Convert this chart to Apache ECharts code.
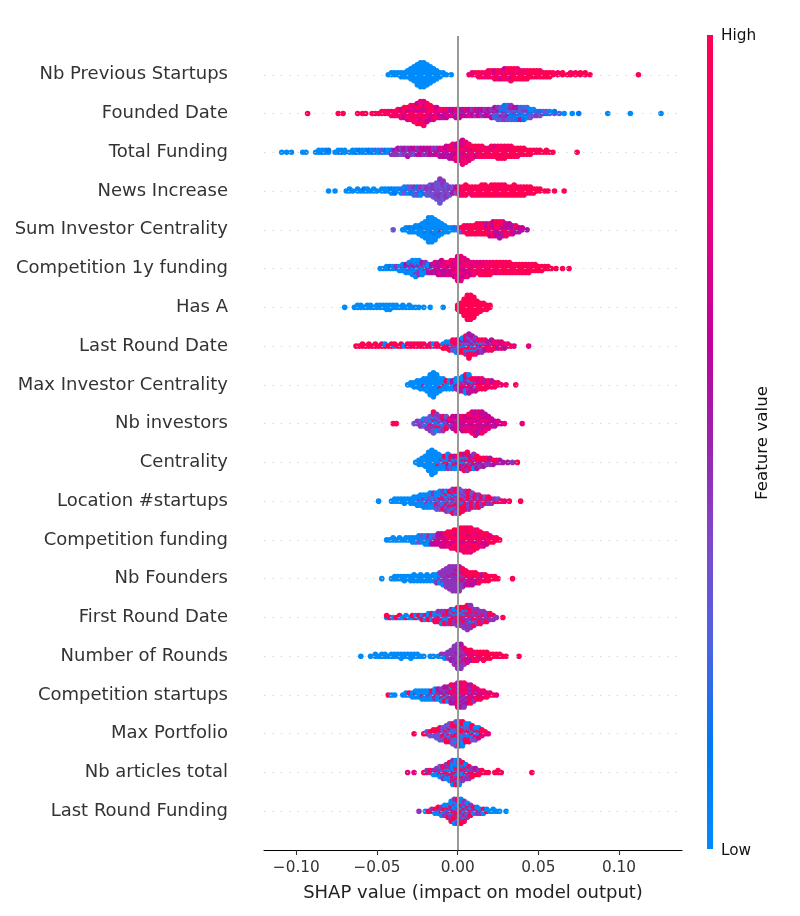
<!DOCTYPE html>
<html>
<head>
<meta charset="utf-8">
<script src="https://cdn.jsdelivr.net/npm/echarts@6/dist/echarts.min.js"></script>
<style>html,body{margin:0;padding:0;background:#fff}#c{width:800px;height:916px}</style>
</head>
<body>
<div id="c"></div>
<script>
// Feature names, top to bottom
const featureNames = ["Nb Previous Startups","Founded Date","Total Funding","News Increase","Sum Investor Centrality","Competition 1y funding","Has A","Last Round Date","Max Investor Centrality","Nb investors","Centrality","Location #startups","Competition funding","Nb Founders","First Round Date","Number of Rounds","Competition startups","Max Portfolio","Nb articles total","Last Round Funding"];
// x tick labels
const xTicks = [-0.10, -0.05, 0.00, 0.05, 0.10];
// Each entry: [SHAP value in thousandths, feature values of the dots at that value (0 = low ... 9 = high)]
const nbPreviousStartups = [[-43,"0"],[-41,"00"],[-39,"00"],[-37,"00"],[-35,"000"],[-33,"000"],[-31,"0000"],[-29,"000000"],[-27,"00000000"],[-25,"00000000000"],[-23,"0000000000000"],[-21,"0000000000000"],[-19,"00000000000"],[-17,"000000000"],[-15,"0000000"],[-13,"00000"],[-11,"000"],[-9,"00"],[-7,"0"],[-4,"0"],
 [7,"8"],[9,"97"],[11,"89"],[13,"798"],[15,"989"],[17,"897"],[19,"9798"],[21,"8979"],[23,"97968"],[25,"89798"],[27,"99786"],[29,"979896"],[31,"897989"],[33,"9879698"],[35,"989799"],[37,"799898"],[39,"98979"],[41,"89999"],[43,"99789"],[45,"9899"],[47,"8999"],[49,"9989"],[51,"9899"],[53,"989"],[55,"999"],[57,"899"],[59,"99"],[62,"98"],[65,"99"],[68,"9"],[70,"98"],[73,"99"],[76,"89"],[79,"99"],[82,"9"],[112,"9"]];
const foundedDate = [[-93,"9"],[-74,"9"],[-71,"9"],[-62,"9"],[-59,"9"],[-57,"9"],[-53,"9"],[-51,"8"],[-49,"9"],[-47,"98"],[-45,"89"],[-43,"98"],[-41,"979"],[-39,"898"],[-37,"9789"],[-35,"79868"],[-33,"978969"],[-31,"8796897"],[-29,"98769789"],[-27,"789698978"],[-25,"98768979869"],[-23,"879698796897"],[-21,"9786958796978"],[-19,"8976987968"],[-17,"78697869"],[-15,"6879687"],[-13,"768796"],[-11,"67586"],[-9,"57685"],[-7,"65786"],[-5,"5765"],[-3,"6576"],[-1,"56475"],[1,"65756"],[3,"5465"],[5,"4657"],[7,"5476"],[9,"4564"],[11,"6547"],[13,"4565"],[15,"5446"],[17,"4654"],[19,"5465"],[21,"45346"],[23,"453425"],[25,"3425143"],[27,"4231532"],[29,"25314241"],[31,"31425132"],[33,"42130524"],[35,"2413152"],[37,"3142051"],[39,"4213025"],[41,"1324021"],[43,"231402"],[45,"41203"],[47,"2130"],[49,"324"],[51,"213"],[53,"42"],[55,"13"],[57,"20"],[60,"31"],[63,"2"],[66,"0"],[71,"0"],[75,"1"],[93,"0"],[107,"0"],[126,"0"]];
const totalFunding = [[-109,"0"],[-106,"0"],[-103,"0"],[-96,"0"],[-94,"0"],[-88,"0"],[-86,"00"],[-84,"10"],[-82,"00"],[-80,"01"],[-76,"0"],[-74,"00"],[-72,"10"],[-70,"00"],[-67,"0"],[-65,"00"],[-63,"10"],[-61,"01"],[-59,"00"],[-57,"20"],[-55,"01"],[-53,"10"],[-51,"02"],[-49,"00"],[-47,"13"],[-45,"01"],[-43,"20"],[-41,"014"],[-39,"454"],[-37,"5345"],[-35,"4534"],[-33,"3545"],[-31,"54345"],[-29,"4545"],[-27,"5436"],[-25,"4554"],[-23,"5465"],[-21,"4546"],[-19,"5645"],[-17,"4566"],[-15,"6454"],[-13,"5664"],[-11,"65465"],[-9,"56576"],[-7,"675656"],[-5,"7658675"],[-3,"67586768"],[-1,"576867857"],[1,"8675968768"],[3,"6878597687867"],[5,"78698768978"],[7,"968789687"],[9,"8796898"],[11,"798969"],[13,"897989"],[15,"989798"],[17,"79898"],[19,"98979"],[21,"899789"],[23,"989897"],[25,"9798989"],[27,"8999798"],[29,"9989989"],[31,"989799"],[33,"899898"],[35,"98999"],[37,"99898"],[39,"8999"],[41,"9989"],[43,"999"],[45,"899"],[47,"99"],[49,"98"],[51,"99"],[53,"9"],[55,"99"],[57,"9"],[59,"9"],[74,"9"]];
const newsIncrease = [[-80,"0"],[-76,"0"],[-69,"0"],[-67,"00"],[-65,"0"],[-62,"00"],[-60,"0"],[-58,"01"],[-56,"00"],[-54,"0"],[-52,"00"],[-50,"0"],[-47,"00"],[-45,"10"],[-43,"00"],[-41,"010"],[-39,"001"],[-37,"00"],[-35,"020"],[-33,"0130"],[-31,"3102"],[-29,"0313"],[-27,"13042"],[-25,"30413"],[-23,"03140"],[-21,"4313"],[-19,"34343"],[-17,"433433"],[-15,"3434343"],[-13,"343343433"],[-11,"3433434343343"],[-9,"4343343434"],[-7,"3433434"],[-5,"34343"],[-3,"4353"],[-1,"7935"],[1,"97989"],[3,"89798"],[5,"979899"],[7,"8989"],[9,"99898"],[11,"98999"],[13,"89899"],[15,"999989"],[17,"989899"],[19,"99899"],[21,"898999"],[23,"999899"],[25,"998989"],[27,"899999"],[29,"989998"],[31,"99999"],[33,"98999"],[35,"999899"],[37,"89999"],[39,"99989"],[41,"99899"],[43,"9999"],[45,"9989"],[47,"999"],[49,"99"],[51,"99"],[54,"9"],[56,"9"],[60,"9"],[66,"9"]];
const sumInvestorCentrality = [[-40,"3"],[-34,"0"],[-32,"00"],[-30,"010"],[-28,"000"],[-26,"0100"],[-24,"00000"],[-22,"0001000"],[-20,"000010000"],[-18,"0000000100000"],[-16,"0000100000000"],[-14,"00000010000"],[-12,"00001000"],[-10,"009000"],[-8,"0000"],[-6,"000"],[-4,"00"],[-2,"01"],[0,"03"],[2,"293"],[4,"9989"],[6,"99979"],[8,"89999"],[10,"99899"],[12,"998999"],[14,"899998"],[16,"999899"],[18,"989695"],[20,"9958996"],[22,"95968596"],[24,"69595869"],[26,"596859695"],[28,"85965958"],[30,"9596859"],[32,"569586"],[34,"95856"],[36,"6859"],[38,"565"],[40,"56"],[43,"5"]];
const competition1yFunding = [[-48,"0"],[-46,"0"],[-44,"00"],[-42,"01"],[-40,"00"],[-38,"04"],[-36,"000"],[-34,"0400"],[-32,"04050"],[-30,"004500"],[-28,"40050400"],[-26,"050400400"],[-24,"40054040"],[-22,"5004050"],[-20,"045004"],[-18,"50405"],[-16,"45056"],[-14,"546557"],[-12,"5765656"],[-10,"65765876"],[-8,"7658675"],[-6,"6786587"],[-4,"56786768"],[-2,"876786876"],[0,"7687867867867"],[2,"8678768687687"],[4,"7867687867"],[6,"786878678"],[8,"8768876"],[10,"7887978"],[12,"878987"],[14,"9878979"],[16,"7989878"],[18,"8979989"],[20,"9878989"],[22,"899798"],[24,"998979"],[26,"989899"],[28,"899989"],[30,"999898"],[32,"989999"],[34,"99898"],[36,"99989"],[38,"89999"],[40,"99998"],[42,"98999"],[44,"99989"],[46,"9999"],[48,"9899"],[50,"999"],[52,"999"],[54,"99"],[56,"99"],[58,"9"],[61,"9"],[65,"9"],[69,"9"]];
const hasA = [[-70,"0"],[-64,"0"],[-62,"00"],[-60,"00"],[-58,"0"],[-56,"00"],[-54,"00"],[-52,"0"],[-50,"00"],[-48,"00"],[-46,"00"],[-44,"000"],[-42,"000"],[-40,"00"],[-38,"00"],[-36,"0"],[-34,"00"],[-32,"0"],[-30,"00"],[-28,"0"],[-26,"0"],[-24,"0"],[-21,"0"],[-17,"0"],[-9,"0"],
 [0,"999"],[2,"99999"],[4,"999999999"],[6,"9999999999999"],[8,"9999999999999"],[10,"99999999999"],[12,"9999999"],[14,"99999"],[16,"9999"],[18,"999"],[20,"99"]];
const lastRoundDate = [[-63,"9"],[-61,"9"],[-59,"99"],[-57,"9"],[-55,"99"],[-53,"9"],[-51,"99"],[-49,"9"],[-47,"99"],[-45,"90"],[-43,"9"],[-41,"99"],[-39,"09"],[-37,"9"],[-35,"99"],[-33,"0"],[-31,"99"],[-29,"98"],[-27,"99"],[-25,"89"],[-23,"99"],[-21,"98"],[-19,"9"],[-17,"98"],[-15,"30"],[-13,"98"],[-11,"9"],[-9,"809"],[-7,"9890"],[-5,"49809"],[-3,"904938"],[-1,"0948390"],[1,"3904958"],[3,"49038590"],[5,"8403950948"],[7,"0493850493859"],[9,"9405830495"],[11,"840395048"],[13,"5940385"],[15,"9480394"],[17,"489358"],[19,"84958"],[21,"589485"],[23,"8598"],[25,"7857"],[27,"8587"],[29,"585"],[31,"78"],[33,"8"],[35,"7"],[44,"7"]];
const maxInvestorCentrality = [[-31,"0"],[-29,"00"],[-27,"000"],[-25,"0000"],[-23,"00000"],[-21,"008000"],[-19,"0000000"],[-17,"00000000000"],[-15,"0000000000000"],[-13,"0000000000"],[-11,"0000900"],[-9,"009000"],[-7,"00090"],[-5,"00000"],[-3,"09050"],[-1,"405040"],[1,"5040905"],[3,"05947050"],[5,"4095740509"],[7,"0594704950"],[9,"7940597"],[11,"5974085"],[13,"979587"],[15,"859798"],[17,"97859"],[19,"5978"],[21,"8795"],[23,"978"],[25,"89"],[27,"7"],[30,"8"],[36,"9"]];
const nbInvestors = [[-40,"9"],[-38,"9"],[-27,"3"],[-25,"34"],[-23,"434"],[-21,"3430"],[-19,"43034"],[-17,"4390434"],[-15,"3049403439"],[-13,"40349304"],[-11,"3403943"],[-9,"4305394"],[-7,"534593"],[-5,"6549"],[-3,"564756"],[-1,"6574567"],[1,"756765"],[3,"6756786"],[5,"7657867"],[7,"67587689"],[9,"5768765787"],[11,"76587687657"],[13,"8765786757"],[15,"7658765786"],[17,"67587675"],[19,"765876"],[21,"6576"],[23,"765"],[25,"67"],[27,"6"],[29,"7"],[40,"7"]];
const centrality = [[-26,"0"],[-24,"000"],[-22,"0000"],[-20,"000000"],[-18,"0000000000"],[-16,"0000000000000"],[-14,"00000000000"],[-12,"00009000"],[-10,"0004000"],[-8,"0090090"],[-6,"00905040"],[-4,"0904093"],[-2,"9040950"],[0,"0950490"],[2,"95049059"],[4,"940950459"],[6,"9504905949"],[8,"5949459"],[10,"95945904"],[12,"9459495"],[14,"49594"],[16,"59495"],[18,"9549"],[20,"5945"],[22,"495"],[24,"59"],[26,"45"],[28,"5"],[31,"5"],[34,"4"],[37,"9"]];
const locationStartups = [[-49,"0"],[-41,"0"],[-39,"00"],[-37,"00"],[-35,"00"],[-33,"000"],[-31,"00"],[-29,"000"],[-27,"0000"],[-25,"00300"],[-23,"040000"],[-21,"0304000"],[-19,"3040300"],[-17,"04030300"],[-15,"30400304"],[-13,"040390403"],[-11,"3049304030"],[-9,"0439043094"],[-7,"94039049304"],[-5,"30940390493"],[-3,"9049309439049"],[-1,"4903949039493"],[1,"9439409394039"],[3,"39490394939"],[5,"9493949394"],[7,"4939493949"],[9,"94939493"],[11,"3949394"],[13,"9493949"],[15,"49394"],[17,"9493"],[19,"3949"],[21,"494"],[23,"94"],[25,"93"],[27,"9"],[29,"7"],[32,"9"],[39,"9"]];
const competitionFunding = [[-44,"0"],[-42,"0"],[-40,"00"],[-38,"0"],[-36,"00"],[-34,"0"],[-32,"00"],[-30,"00"],[-28,"000"],[-26,"000"],[-24,"0030"],[-22,"0003"],[-20,"00300"],[-18,"03040"],[-16,"40305"],[-14,"04536"],[-12,"547565"],[-10,"6578567"],[-8,"7865876"],[-6,"89786989"],[-4,"789879698"],[-2,"8979689789"],[0,"98798697899"],[2,"789968978979"],[4,"9879698789798"],[6,"8979869879879"],[8,"7989768979897"],[10,"98796897989"],[12,"8979689798"],[14,"97968979"],[16,"8979687"],[18,"978969"],[20,"8797"],[22,"989"],[24,"79"],[26,"9"]];
const nbFounders = [[-47,"0"],[-41,"0"],[-39,"00"],[-37,"00"],[-35,"00"],[-33,"000"],[-31,"00"],[-29,"000"],[-27,"0000"],[-25,"000"],[-23,"0000"],[-21,"000"],[-19,"0000"],[-17,"000"],[-15,"0000"],[-13,"00004"],[-11,"044004"],[-9,"44444404"],[-7,"4444444444"],[-5,"444544444444"],[-3,"4444454444444"],[-1,"4544454445444"],[1,"4459444544454"],[3,"5494594549"],[5,"94594958"],[7,"9589597"],[9,"8959895"],[11,"958959"],[13,"89598"],[15,"9895"],[17,"5989"],[19,"899"],[21,"98"],[23,"99"],[25,"9"],[34,"9"]];
const firstRoundDate = [[-44,"09"],[-42,"9"],[-40,"0"],[-38,"9"],[-36,"09"],[-34,"0"],[-32,"90"],[-30,"0"],[-28,"09"],[-26,"90"],[-24,"09"],[-22,"909"],[-20,"090"],[-18,"9090"],[-16,"0909"],[-14,"90409"],[-12,"049094"],[-10,"9040940"],[-8,"4909049"],[-6,"9409094"],[-4,"04949094"],[-2,"94904940"],[0,"4940949049"],[2,"0494904949"],[4,"49409490494"],[6,"4944494049494"],[8,"494449094944"],[10,"449494049"],[12,"94944944"],[14,"4944949"],[16,"494944"],[18,"94449"],[20,"4949"],[22,"494"],[24,"4"],[28,"9"]];
const numberOfRounds = [[-60,"0"],[-54,"0"],[-51,"00"],[-49,"0"],[-47,"00"],[-45,"00"],[-43,"0"],[-41,"00"],[-39,"00"],[-37,"00"],[-35,"000"],[-33,"00"],[-31,"00"],[-29,"000"],[-27,"00"],[-25,"00"],[-23,"0"],[-21,"0"],[-17,"0"],[-15,"0"],[-12,"0"],[-10,"04"],[-8,"040"],[-6,"4444"],[-4,"444454"],[-2,"4444544444"],[0,"4445444454444"],[2,"4454444474454"],[4,"474474574"],[6,"7497597"],[8,"979759"],[10,"97979"],[12,"99799"],[14,"9979"],[16,"99999"],[18,"9899"],[20,"999"],[22,"99"],[24,"99"],[26,"99"],[28,"9"],[30,"9"],[38,"9"]];
const competitionStartups = [[-43,"9"],[-41,"0"],[-39,"0"],[-34,"0"],[-32,"00"],[-30,"09"],[-28,"000"],[-26,"0900"],[-24,"0000"],[-22,"00900"],[-20,"00000"],[-18,"00400"],[-16,"04090"],[-14,"009040"],[-12,"090405"],[-10,"4905940"],[-8,"05940495"],[-6,"94059405"],[-4,"4957495059"],[-2,"5749574957"],[0,"7495749574957"],[2,"5947594759475"],[4,"4759475947594"],[6,"5749574957"],[8,"9574957495"],[10,"57495749"],[12,"957497"],[14,"79579"],[16,"9579"],[18,"979"],[20,"97"],[22,"9"],[24,"7"]];
const maxPortfolio = [[-27,"9"],[-21,"9"],[-19,"93"],[-17,"393"],[-15,"3939"],[-13,"39393"],[-11,"9339393"],[-9,"3393933"],[-7,"933933939"],[-5,"3393093393"],[-3,"93309339393"],[-1,"3093930939033"],[1,"9309903930939"],[3,"0939093039090"],[5,"9039309390"],[7,"3909039390"],[9,"90930939"],[11,"9039903"],[13,"930970"],[15,"7979"],[17,"79"],[19,"7"]];
const nbArticlesTotal = [[-31,"7"],[-27,"7"],[-21,"9"],[-19,"94"],[-17,"49"],[-15,"940"],[-13,"4904"],[-11,"049403"],[-9,"4094094"],[-7,"04904904"],[-5,"9040940409"],[-3,"0490409040940"],[-1,"4094094090409"],[1,"0409409409040"],[3,"9409049049"],[5,"04940940"],[7,"9490494"],[9,"94949"],[11,"9495"],[13,"949"],[15,"99"],[17,"9"],[19,"9"],[23,"9"],[25,"99"],[27,"9"],[46,"9"]];
const lastRoundFunding = [[-24,"4"],[-20,"0"],[-18,"9"],[-16,"94"],[-14,"490"],[-12,"9409"],[-10,"04940"],[-8,"490940"],[-6,"9049409"],[-4,"04940940409"],[-2,"9490409490940"],[0,"4094904094094"],[2,"0940940940409"],[4,"94094094049"],[6,"40940940"],[8,"094094"],[10,"9409"],[12,"0940"],[14,"904"],[16,"090"],[18,"90"],[20,"0"],[22,"00"],[24,"0"],[26,"0"],[30,"0"]];

const rowsData = [nbPreviousStartups, foundedDate, totalFunding, newsIncrease, sumInvestorCentrality, competition1yFunding, hasA, lastRoundDate, maxInvestorCentrality, nbInvestors, centrality, locationStartups, competitionFunding, nbFounders, firstRoundDate, numberOfRounds, competitionStartups, maxPortfolio, nbArticlesTotal, lastRoundFunding];

const colorStops = ['#008bfb','#0078f3','#4b63e3','#7d49cd','#9b23ad','#c2009c','#e00086','#f5006c','#ff0052'];

const N = featureNames.length;
// beeswarm layout (like shap: layers alternate up/down, scaled to 0.36 of row spacing)
const points = [];
rowsData.forEach((entries, i) => {
  const yBase = N - 1 - i;
  let maxL = 0;
  entries.forEach(e => { maxL = Math.max(maxL, Math.ceil((e[1].length - 1) / 2)); });
  const sc = 0.9 * 0.4 / (maxL + 1);
  entries.forEach(e => {
    const s = e[1];
    for (let k = 0; k < s.length; k++) {
      const off = Math.ceil(k / 2) * ((k % 2) * 2 - 1);
      points.push([e[0] / 1000, yBase + off * sc, +s[k]]);
    }
  });
});

const chart = echarts.init(document.getElementById('c'), null, {renderer: 'canvas'});
const font = 'DejaVu Sans';
const fmt = v => (v < 0 ? '\u2212' : '') + Math.abs(v).toFixed(2);

chart.setOption({
  animation: false,
  backgroundColor: '#ffffff',
  grid: {left: 264, right: 118, top: 36, bottom: 66, containLabel: false},
  xAxis: {
    type: 'value', min: -0.12, max: 0.139,
    axisLine: {show: true, onZero: false, lineStyle: {color: '#000', width: 1.1}},
    axisTick: {show: true, length: 5, lineStyle: {color: '#333', width: 1.1}, customValues: xTicks},
    axisLabel: {color: '#333', fontSize: 15.3, fontFamily: font, margin: 11, customValues: xTicks, formatter: fmt},
    splitLine: {show: false},
    name: 'SHAP value (impact on model output)', nameLocation: 'middle', nameGap: 34,
    nameTextStyle: {color: '#222', fontSize: 18, fontFamily: font}
  },
  yAxis: {
    type: 'value', min: -1, max: N, interval: 1,
    axisLine: {show: false}, axisTick: {show: false}, splitLine: {show: false},
    axisLabel: {color: '#333', fontSize: 18, fontFamily: font, margin: 36, padding: [3, 0, 0, 0],
      formatter: v => (v >= 0 && v <= N - 1) ? featureNames[N - 1 - v] : ''}
  },
  visualMap: {show: false, type: 'continuous', min: 0, max: 9, dimension: 2, seriesIndex: 1, inRange: {color: colorStops}},
  series: [
    {
      type: 'scatter', data: [], z: 1, silent: true,
      markLine: {
        silent: true, symbol: ['none', 'none'], label: {show: false}, animation: false,
        data: featureNames.map((_, i) => ({yAxis: i, lineStyle: {color: '#cccccc', width: 0.8, type: [1.4, 7]}}))
          .concat([{xAxis: 0, lineStyle: {color: '#999999', width: 2, type: 'solid'}}])
      }
    },
    {
      type: 'scatter', data: points, symbolSize: 5.6, z: 3, progressive: 0, silent: true,
      itemStyle: {opacity: 1, borderWidth: 0}
    }
  ],
  graphic: [
    {type: 'rect', left: 707, top: 35, shape: {width: 6, height: 814}, silent: true,
      style: {fill: new echarts.graphic.LinearGradient(0, 1, 0, 0, colorStops.map((c, k) => ({offset: k / (colorStops.length - 1), color: c})))}},
    {type: 'text', left: 721, top: 29, style: {text: 'High', fill: '#111', font: '15.3px "DejaVu Sans"'}},
    {type: 'text', left: 721, top: 844, style: {text: 'Low', fill: '#111', font: '15.3px "DejaVu Sans"'}},
    {type: 'text', x: 763, y: 443, rotation: Math.PI / 2, style: {text: 'Feature value', fill: '#111', font: '16.7px "DejaVu Sans"', align: 'center', verticalAlign: 'middle'}}
  ]
});
</script>
</body>
</html>
